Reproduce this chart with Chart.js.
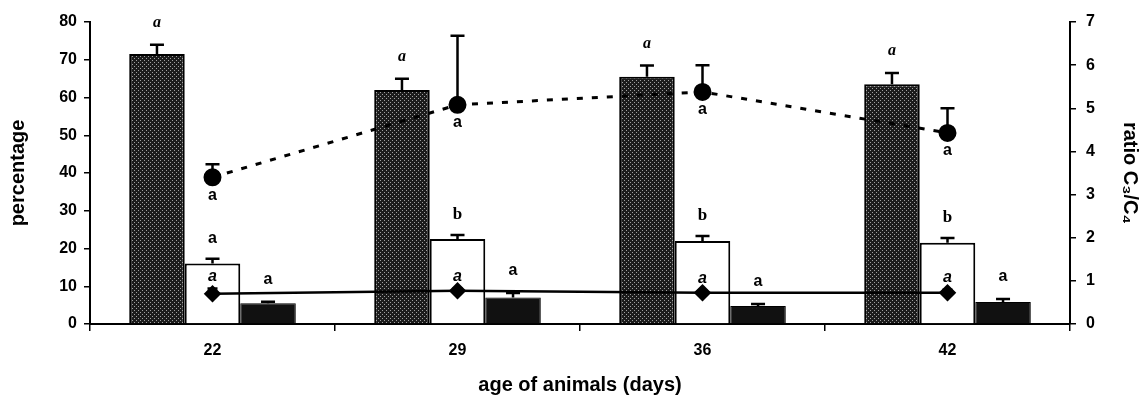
<!DOCTYPE html>
<html>
<head>
<meta charset="utf-8">
<script src="https://cdn.jsdelivr.net/npm/chart.js@4/dist/chart.umd.min.js"></script>
<style>
  body { margin: 0; background: #fff; }
  canvas { display: block; }
</style>
</head>
<body>
<canvas id="chart" width="1142" height="401"></canvas>
<script>
// Data
const ages = ['22', '29', '36', '42'];
const darkBar = [71.5, 62, 65.5, 63.5];
const darkSd = [2.5, 3, 3, 3];
const whiteBar = [16, 22.5, 22, 21.5];
const whiteSd = [1.3, 1.1, 1.3, 1.3];
const blackBar = [5.5, 7, 4.8, 5.8];
const blackSd = [0.4, 1.2, 0.5, 0.8];
const ratio = [3.4, 5.08, 5.38, 4.43];
const ratioSd = [0.3, 1.6, 0.62, 0.57];
const diamond = [8.0, 8.8, 8.3, 8.3];
const diamondSd = [1.4, 0.6, 0.5, 0.8];

const darkLetters = ['a', 'a', 'a', 'a'];
const whiteLetters = ['a', 'b', 'b', 'b'];
const blackLetters = ['a', 'a', 'a', 'a'];
const ratioLetters = ['a', 'a', 'a', 'a'];
const diamondLetters = ['a', 'a', 'a', 'a'];

const yTicks = [0, 10, 20, 30, 40, 50, 60, 70, 80];
const y2Ticks = [0, 1, 2, 3, 4, 5, 6, 7];

// stippled fill for the dark bars
function makeStipple() {
    const c = document.createElement('canvas');
    c.width = 4; c.height = 4;
    const g = c.getContext('2d');
    g.fillStyle = '#1c1c1c';
    g.fillRect(0, 0, 4, 4);
    g.fillStyle = '#a0a0a0';
    g.fillRect(0, 0, 1, 1);
    g.fillRect(2, 2, 1, 1);
    return g.createPattern(c, 'repeat');
}

// error bars (upper side only) drawn from each dataset's sd array
const errorBars = {
    id: 'errorBars',
    afterDatasetsDraw(chart) {
        const ctx = chart.ctx;
        chart.data.datasets.forEach((ds, i) => {
            if (!ds.sd) return;
            const meta = chart.getDatasetMeta(i);
            const scale = chart.scales[ds.yAxisID];
            ctx.save();
            ctx.strokeStyle = '#000';
            ctx.lineWidth = 2.5;
            meta.data.forEach((el, j) => {
                const top = scale.getPixelForValue(ds.data[j] + ds.sd[j]);
                ctx.beginPath();
                ctx.moveTo(el.x, el.y);
                ctx.lineTo(el.x, top);
                ctx.moveTo(el.x - ds.capW, top);
                ctx.lineTo(el.x + ds.capW, top);
                ctx.stroke();
            });
            ctx.restore();
        });
    }
};

// significance letters
const letters = {
    id: 'letters',
    afterDatasetsDraw(chart) {
        const ctx = chart.ctx;
        chart.data.datasets.forEach((ds, i) => {
            if (!ds.letters) return;
            const meta = chart.getDatasetMeta(i);
            const scale = chart.scales[ds.yAxisID];
            ctx.save();
            ctx.fillStyle = '#000';
            ctx.textAlign = 'center';
            ctx.textBaseline = 'middle';
            meta.data.forEach((el, j) => {
                const f = ds.letterFont[j] || ds.letterFont[0];
                ctx.font = f;
                let y;
                if (ds.letterPos === 'below') {
                    y = el.y + ds.letterOff;
                } else {
                    y = scale.getPixelForValue(ds.data[j] + ds.sd[j]) - ds.letterOff;
                }
                ctx.fillText(ds.letters[j], el.x, y);
            });
            ctx.restore();
        });
    }
};

const sansA = 'bold 16px "Liberation Sans", Arial, sans-serif';
const italA = 'italic bold 16px "Liberation Serif", serif';
const serifB = 'bold 17px "Liberation Serif", serif';
const italSansA = 'italic bold 16px "Liberation Sans", Arial, sans-serif';

function initChart() {
    const ctx = document.getElementById('chart').getContext('2d');
    new Chart(ctx, {
        type: 'bar',
        data: {
            labels: ages,
            datasets: [
                {
                    type: 'line',
                    data: ratio,
                    sd: ratioSd,
                    capW: 7,
                    yAxisID: 'y2',
                    order: 1,
                    borderColor: '#000',
                    borderWidth: 3,
                    borderDash: [6, 9],
                    pointStyle: 'circle',
                    pointRadius: 7.5,
                    pointBackgroundColor: '#000',
                    pointBorderColor: '#000',
                    fill: false,
                    tension: 0,
                    letters: ratioLetters,
                    letterPos: 'below',
                    letterOff: 18,
                    letterFont: [sansA]
                },
                {
                    type: 'line',
                    data: diamond,
                    sd: diamondSd,
                    capW: 5,
                    yAxisID: 'y',
                    order: 1,
                    borderColor: '#000',
                    borderWidth: 2.5,
                    pointStyle: 'rectRot',
                    pointRadius: 7,
                    pointBackgroundColor: '#000',
                    pointBorderColor: '#000',
                    fill: false,
                    tension: 0,
                    letters: diamondLetters,
                    letterPos: 'above',
                    letterOff: 12,
                    letterFont: [italSansA]
                },
                {
                    data: darkBar,
                    sd: darkSd,
                    capW: 7,
                    yAxisID: 'y',
                    order: 2,
                    backgroundColor: makeStipple(),
                    borderColor: '#000',
                    borderWidth: 2,
                    letters: darkLetters,
                    letterPos: 'above',
                    letterOff: 22,
                    letterFont: [italA]
                },
                {
                    data: whiteBar,
                    sd: whiteSd,
                    capW: 7,
                    yAxisID: 'y',
                    order: 2,
                    backgroundColor: '#fff',
                    borderColor: '#000',
                    borderWidth: 2,
                    letters: whiteLetters,
                    letterPos: 'above',
                    letterOff: 20,
                    letterFont: [sansA, serifB, serifB, serifB]
                },
                {
                    data: blackBar,
                    sd: blackSd,
                    capW: 7,
                    yAxisID: 'y',
                    order: 2,
                    backgroundColor: '#111',
                    borderColor: '#000',
                    borderWidth: 1,
                    letters: blackLetters,
                    letterPos: 'above',
                    letterOff: 22,
                    letterFont: [sansA]
                }
            ]
        },
        options: {
            responsive: false,
            animation: false,
            layout: { padding: { top: 22, left: 0, right: 0, bottom: 0 } },
            datasets: {
                bar: { barPercentage: 1, categoryPercentage: 0.68 }
            },
            plugins: {
                legend: { display: false },
                tooltip: { enabled: false }
            },
            scales: {
                x: {
                    offset: true,
                    grid: { offset: true, drawOnChartArea: false, color: '#000', lineWidth: 1.5, tickLength: 7 },
                    border: { color: '#000', width: 2 },
                    ticks: { color: '#000', font: { family: '"Liberation Sans", Arial, sans-serif', size: 16, weight: 'bold' }, padding: 10 },
                    title: {
                        display: true,
                        text: 'age of animals (days)',
                        color: '#000',
                        font: { family: '"Liberation Sans", Arial, sans-serif', size: 20, weight: 'bold' },
                        padding: { top: 8, bottom: 4 }
                    },
                    afterFit(scale) { scale.height = 77; }
                },
                y: {
                    position: 'left',
                    min: 0,
                    max: 80,
                    afterBuildTicks(scale) { scale.ticks = yTicks.map(v => ({ value: v })); },
                    grid: { drawOnChartArea: false, color: '#000', lineWidth: 1.5, tickLength: 6 },
                    border: { color: '#000', width: 2 },
                    ticks: { color: '#000', font: { family: '"Liberation Sans", Arial, sans-serif', size: 16, weight: 'bold' }, padding: 7 },
                    title: {
                        display: true,
                        text: 'percentage',
                        color: '#000',
                        font: { family: '"Liberation Sans", Arial, sans-serif', size: 20, weight: 'bold' },
                        padding: { top: 6, bottom: 0 }
                    },
                    afterFit(scale) { scale.width = 90; }
                },
                y2: {
                    position: 'right',
                    min: 0,
                    max: 7,
                    afterBuildTicks(scale) { scale.ticks = y2Ticks.map(v => ({ value: v })); },
                    grid: { drawOnChartArea: false, color: '#000', lineWidth: 1.5, tickLength: 6 },
                    border: { color: '#000', width: 2 },
                    ticks: { color: '#000', font: { family: '"Liberation Sans", Arial, sans-serif', size: 16, weight: 'bold' }, padding: 10 },
                    title: {
                        display: true,
                        text: 'ratio C\u2083/C\u2084',
                        color: '#000',
                        font: { family: '"Liberation Sans", "DejaVu Sans", Arial, sans-serif', size: 20, weight: 'bold' },
                        padding: { top: 0, bottom: 4 }
                    },
                    afterFit(scale) { scale.width = 72; }
                }
            }
        },
        plugins: [errorBars, letters]
    });
}

document.addEventListener('DOMContentLoaded', initChart);
</script>
</body>
</html>
